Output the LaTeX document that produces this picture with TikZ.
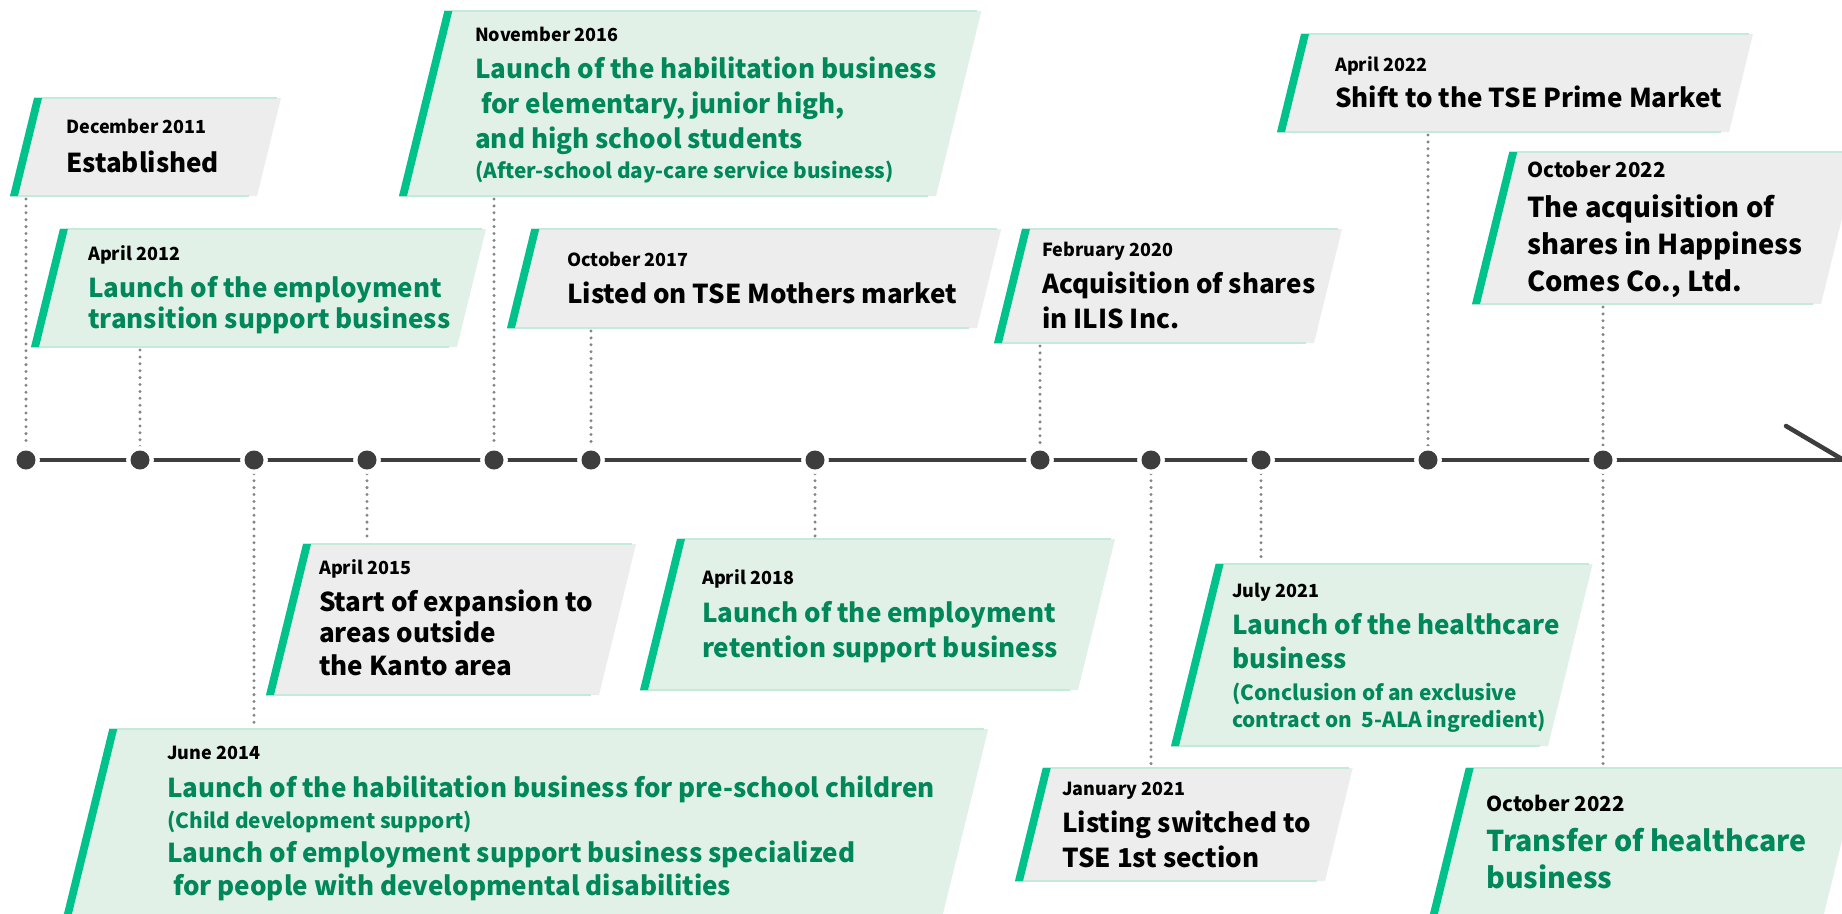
\documentclass[tikz,border=0pt]{standalone}
\usepackage{fontspec}
\setmainfont{Noto Sans CJK JP}
\definecolor{tgreen}{HTML}{00875A}
\definecolor{bargreen}{HTML}{00C28A}
\definecolor{fillgreen}{HTML}{E1F1E7}
\definecolor{fillgray}{HTML}{EDEDED}
\definecolor{mint}{HTML}{C4EBDA}
\definecolor{linedark}{HTML}{3D3D3D}
\definecolor{dotgray}{HTML}{858585}
\newcommand\tlbox[5]{% xbl, ytop, ybot, xbr, fill
  \pgfmathsetmacro\tlsh{0.245*(#3-#2)}
  \fill[#5] (#1,#3) -- (#1+\tlsh,#2) -- (#4+\tlsh,#2) -- (#4,#3) -- cycle;
  \draw[mint, line width=1.5] (#1+\tlsh,#2) -- (#4+\tlsh-4,#2);
  \draw[mint, line width=1.5] (#1,#3) -- (#4-8,#3);
  \fill[bargreen] (#1,#3) -- (#1+\tlsh,#2) -- (#1+\tlsh+8,#2) -- (#1+8,#3) -- cycle;
}
\begin{document}
\begin{tikzpicture}[x=1pt,y=-1pt,
  date/.style={anchor=base west, inner sep=0, text=black, font=\bfseries\fontsize{18}{18}\selectfont},
  bigdate/.style={anchor=base west, inner sep=0, text=black, font=\bfseries\fontsize{20.5}{20.5}\selectfont},
  ttl/.style={anchor=base west, inner sep=0, font=\bfseries\fontsize{26}{26}\selectfont},
  bigg/.style={anchor=base west, inner sep=0, font=\bfseries\fontsize{27.4}{27.4}\selectfont},
  bigm/.style={anchor=base west, inner sep=0, font=\bfseries\fontsize{28.6}{28.6}\selectfont},
  sub/.style={anchor=base west, inner sep=0, font=\bfseries\fontsize{20.8}{20.8}\selectfont},
  gt/.style={text=tgreen},
  kt/.style={text=black},
  tdot/.style={circle, fill=linedark, minimum size=19, inner sep=0, preaction={draw=white, line width=8.6}},
  conn/.style={dotgray, line width=3.3, line cap=round, dash pattern=on 0pt off 6.9pt},
  tline/.style={linedark, line width=4.5}]
\useasboundingbox (0,0) rectangle (1842,913);
\clip (0,0) rectangle (1842,913);
\fill[white] (0,0) rectangle (1842,913);

% boxes
\tlbox{10}{98}{196}{257}{fillgray}
\tlbox{31}{229}{347}{457}{fillgreen}
\tlbox{399}{11}{196}{936}{fillgreen}
\tlbox{507}{229}{328}{977}{fillgray}
\tlbox{994}{229}{343}{1314}{fillgray}
\tlbox{1277}{34}{132}{1729}{fillgray}
\tlbox{1472}{152}{304}{1821}{fillgray}
\tlbox{266}{544}{695}{599}{fillgray}
\tlbox{640}{539}{690}{1078}{fillgreen}
\tlbox{60}{729}{930}{939}{fillgreen}
\tlbox{1171}{564}{746}{1548}{fillgreen}
\tlbox{1015}{768}{881}{1325}{fillgray}
\tlbox{1426}{768}{930}{1820}{fillgreen}

% connector end points on boxes
\coordinate (cA) at (26,199);
\coordinate (cB) at (140,350);
\coordinate (cJ) at (254,726);
\coordinate (cH) at (367,541);
\coordinate (cC) at (494,199);
\coordinate (cD) at (591,331);
\coordinate (cI) at (815,536);
\coordinate (cE) at (1040,346);
\coordinate (cL) at (1151,765);
\coordinate (cK) at (1261,561);
\coordinate (cF) at (1428,135);
\coordinate (cG) at (1603,307);
\coordinate (cM) at (1603,765);
\coordinate (tend) at (1850,460);
\coordinate (tarr) at (1786,426);
\coordinate (ttip) at (1852,465);

% timeline
\draw[tline] (26,460) -- (tend);
\draw[tline, line cap=round] (tarr) -- (ttip);

\foreach \n/\x in {1/26,2/140,3/254,4/367,5/494,6/591,7/815,8/1040,9/1151,10/1261,11/1428,12/1603}
  \coordinate (p\n) at (\x,460);

\draw[conn] (cA) -- (p1);
\draw[conn] (cB) -- (p2);
\draw[conn] (p3) -- (cJ);
\draw[conn] (p4) -- (cH);
\draw[conn] (cC) -- (p5);
\draw[conn] (cD) -- (p6);
\draw[conn] (p7) -- (cI);
\draw[conn] (cE) -- (p8);
\draw[conn] (p9) -- (cL);
\draw[conn] (p10) -- (cK);
\draw[conn] (cF) -- (p11);
\draw[conn] (cG) -- (p12);
\draw[conn] (p12) -- (cM);

\foreach \n in {1,...,12}
  \node[tdot] (d\n) at (p\n) {};

% texts
\node[date] (a0) at (66,133) {December 2011};
\node[ttl,kt] (a1) at (66,172) {Established};

\node[date] (b0) at (88,260) {April 2012};
\node[ttl,gt] (b1) at (88,297) {Launch of the employment};
\node[ttl,gt] (b2) at (88,328) {transition support business};

\node[date] (c0) at (475,41) {November 2016};
\node[ttl,gt] (c1) at (475,78) {Launch of the habilitation business};
\node[ttl,gt] (c2) at (481,113) {for elementary, junior high,};
\node[ttl,gt] (c3) at (475,148) {and high school students};
\node[sub,gt] (c4) at (475,178) {(After-school day-care service business)};

\node[date] (e0) at (567,266) {October 2017};
\node[ttl,kt] (e1) at (567,303) {Listed on TSE Mothers market};

\node[date] (f0) at (1042,256) {February 2020};
\node[ttl,kt] (f1) at (1042,293) {Acquisition of shares};
\node[ttl,kt] (f2) at (1042,328) {in ILIS Inc.};

\node[date] (g0) at (1335,71) {April 2022};
\node[ttl,kt] (g1) at (1335,107) {Shift to the TSE Prime Market};

\node[bigdate] (h0) at (1527,177) {October 2022};
\node[bigg,kt] (h1) at (1527,217) {The acquisition of};
\node[bigg,kt] (h2) at (1527,254) {shares in Happiness};
\node[bigg,kt] (h3) at (1527,291) {Comes Co., Ltd.};

\node[date] (i0) at (319,574) {April 2015};
\node[ttl,kt] (i1) at (319,611) {Start of expansion to};
\node[ttl,kt] (i2) at (319,642) {areas outside};
\node[ttl,kt] (i3) at (319,675) {the Kanto area};

\node[date] (j0) at (702,584) {April 2018};
\node[ttl,gt] (j1) at (702,622) {Launch of the employment};
\node[ttl,gt] (j2) at (702,657) {retention support business};

\node[date] (k0) at (167,759) {June 2014};
\node[ttl,gt] (k1) at (167,797) {Launch of the habilitation business for pre-school children};
\node[sub,gt] (k2) at (167,828) {(Child development support)};
\node[ttl,gt] (k3) at (167,862) {Launch of employment support business specialized};
\node[ttl,gt] (k4) at (173,895) {for people with developmental disabilities};

\node[date] (l0) at (1232,597) {July 2021};
\node[ttl,gt] (l1) at (1232,634) {Launch of the healthcare};
\node[ttl,gt] (l2) at (1232,668) {business};
\node[sub,gt] (l3) at (1232,700) {(Conclusion of an exclusive};
\node[sub,gt] (l4) at (1232,727) {contract on\ \ 5-ALA ingredient)};

\node[date] (m0) at (1062,795) {January 2021};
\node[ttl,kt] (m1) at (1062,832) {Listing switched to};
\node[ttl,kt] (m2) at (1062,867) {TSE 1st section};

\node[bigdate] (n0) at (1486,811) {October 2022};
\node[bigm,gt] (n1) at (1486,851) {Transfer of healthcare};
\node[bigm,gt] (n2) at (1486,888) {business};
\end{tikzpicture}
\end{document}
